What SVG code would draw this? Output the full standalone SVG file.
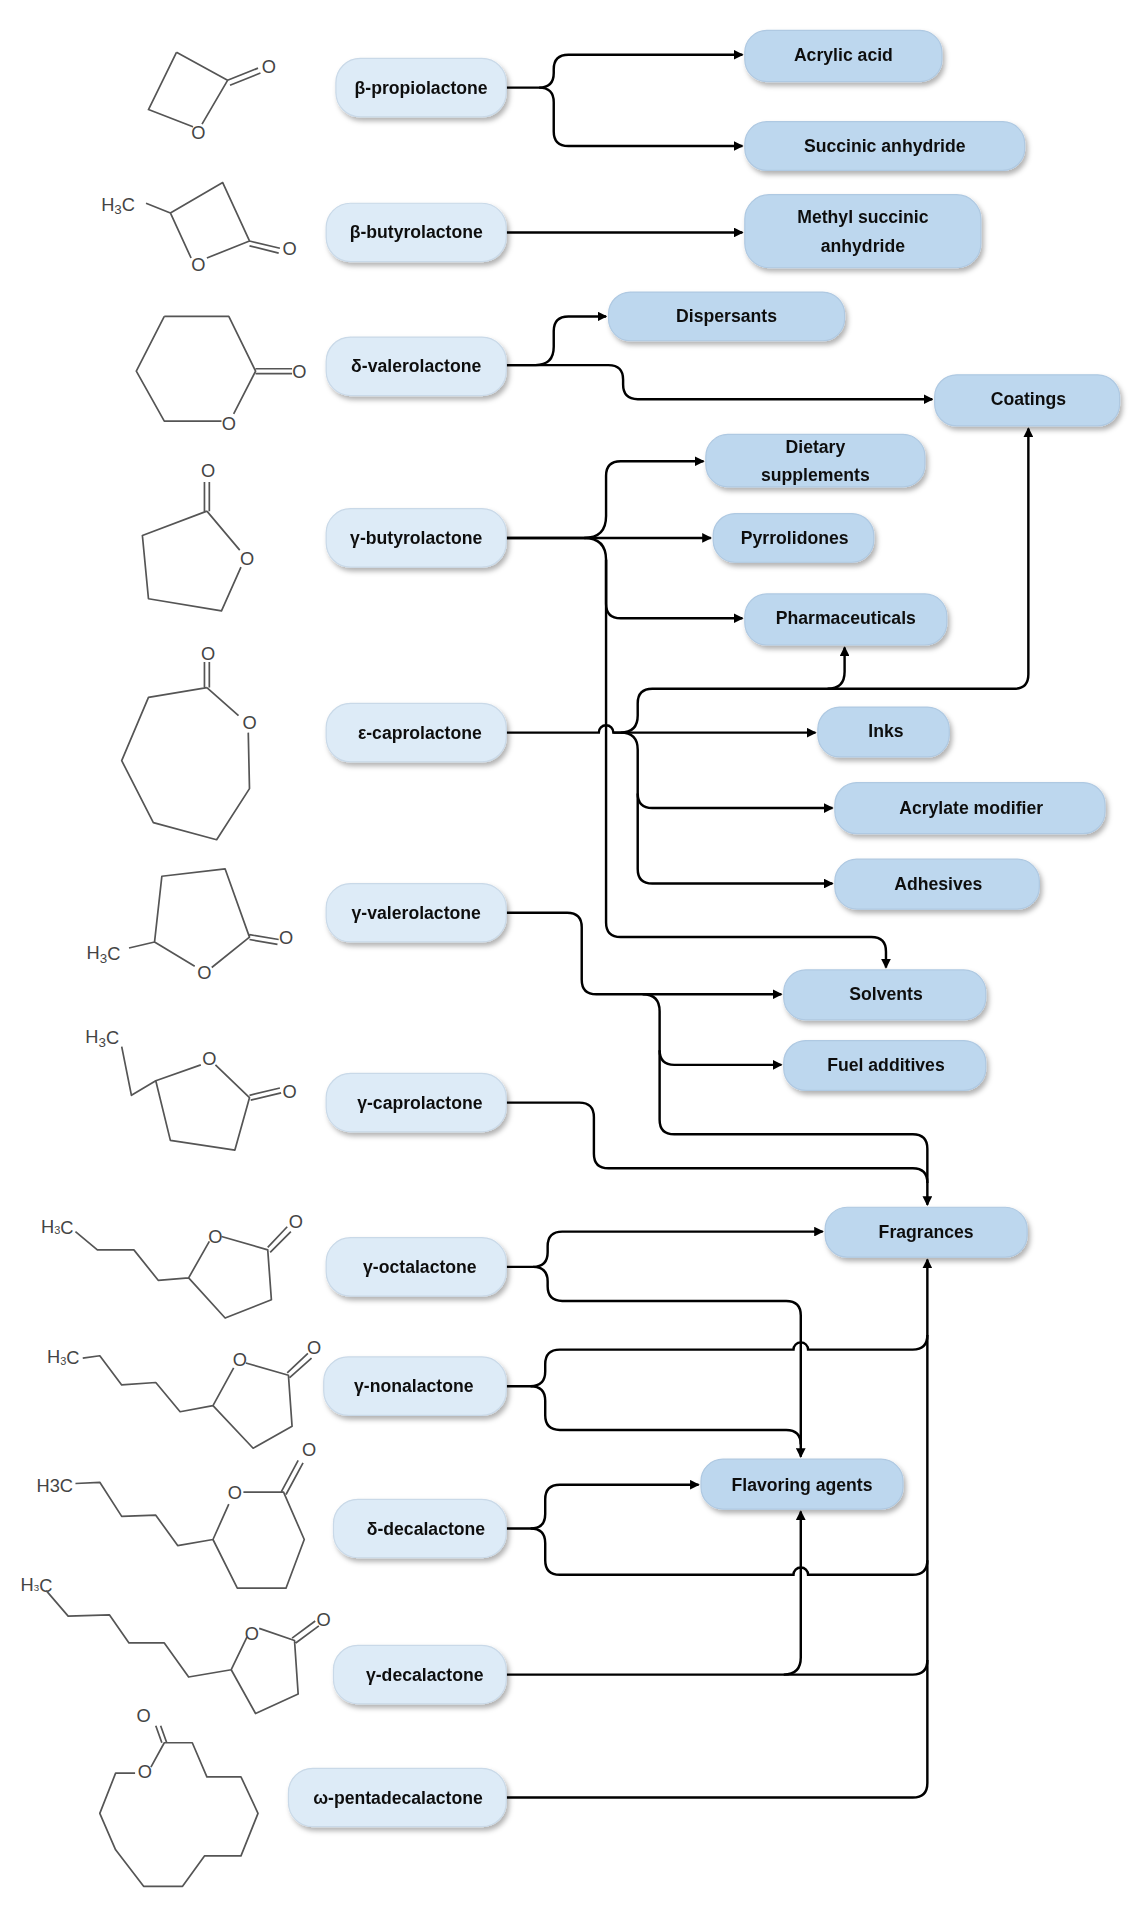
<svg xmlns="http://www.w3.org/2000/svg" width="1144" height="1914" viewBox="0 0 1144 1914">
<style>
.src{fill:#DDEBF7;stroke:#C9D9E8;stroke-width:1}
.dst{fill:#BDD7EE;stroke:#AFC9E2;stroke-width:1}
.lbl{font-family:"Liberation Sans",Arial,sans-serif;font-weight:bold;font-size:14.5px;fill:#111;text-anchor:middle;dominant-baseline:central}
.con{fill:none;stroke:#000;stroke-width:2}
.mol{fill:none;stroke:#555;stroke-width:1.4;stroke-linejoin:round}
.at{font-family:"Liberation Sans",Arial,sans-serif;font-size:15px;fill:#444;text-anchor:middle;dominant-baseline:central}
</style>
<defs>
<filter id="sh" x="-10%" y="-20%" width="130%" height="160%"><feDropShadow dx="2" dy="3" stdDeviation="2" flood-color="#000" flood-opacity="0.3"/></filter>
<marker id="ar" markerWidth="8" markerHeight="8" refX="7" refY="4" orient="auto" markerUnits="userSpaceOnUse"><path d="M0,0 L8,4 L0,8 Z" fill="#000"/></marker>
</defs>
<rect width="1144" height="1914" fill="#fff"/>
<g transform="scale(1.217)">
<g id="molecules">
<path class="mol" d="M145,43 L187,66 L166,102 M158,104 L122,90 Z M122,90 L145,43 M187,66 L212,56 M189,70 L214,60"/><text class="at" x="163" y="109">O</text><text class="at" x="221" y="55">O</text>
<text class="at" x="97" y="168">H<tspan font-size="11" dy="4">3</tspan><tspan dy="-4">C</tspan></text>
<path class="mol" d="M120,167 L140,175 L183,150 L205,198 L170,212 M157,212 L140,175 M205,198 L230,204 M205,202 L229,208"/><text class="at" x="163" y="217">O</text><text class="at" x="238" y="204">O</text>
<path class="mol" d="M135,260 L188,260 L210,305 L192,340 M182,346 L135,346 L112,305 L135,260 M210,303 L240,303 M210,307 L240,307"/><text class="at" x="188" y="348">O</text><text class="at" x="246" y="305">O</text>
<path class="mol" d="M170,420 L197,452 M198,466 L182,502 L122,492 L117,440 L170,420 M168,420 L168,396 M172,420 L172,396"/><text class="at" x="203" y="459">O</text><text class="at" x="171" y="387">O</text>
<path class="mol" d="M170,565 L196,588 M204,602 L205,648 L178,690 L126,676 L100,625 L122,573 L170,565 M168,565 L168,544 M172,565 L172,544"/><text class="at" x="205" y="594">O</text><text class="at" x="171" y="537">O</text>
<text class="at" x="85" y="783">H<tspan font-size="11" dy="4">3</tspan><tspan dy="-4">C</tspan></text>
<path class="mol" d="M106,779 L127,774 L160,794 M174,795 L205,770 L185,714 L133,720 L127,774 M205,768 L229,772 M205,772 L228,776"/><text class="at" x="168" y="799">O</text><text class="at" x="235" y="770">O</text>
<text class="at" x="84" y="852">H<tspan font-size="11" dy="4">3</tspan><tspan dy="-4">C</tspan></text>
<path class="mol" d="M100,860 L108,900 L128,888 L165,875 M177,875 L205,902 L193,945 L140,937 L128,888 M205,900 L230,894 M206,904 L231,898"/><text class="at" x="172" y="870">O</text><text class="at" x="238" y="897">O</text>
<text class="at" x="47" y="1008" font-size="12">H<tspan font-size="9" dy="3">3</tspan><tspan dy="-3">C</tspan></text>
<path class="mol" d="M62,1012 L80,1027 L110,1027 L130,1052 L155,1050 L172,1020 M182,1016 L220,1027 L223,1068 L185,1083 L155,1050 M220,1025 L236,1008 M222,1029 L239,1012"/><text class="at" x="177" y="1016" font-size="13">O</text><text class="at" x="243" y="1004" font-size="13">O</text>
<text class="at" x="52" y="1115" font-size="12">H<tspan font-size="9" dy="3">3</tspan><tspan dy="-3">C</tspan></text>
<path class="mol" d="M68,1116 L82,1114 L100,1138 L128,1136 L148,1160 L175,1155 L192,1124 M202,1120 L237,1130 L240,1172 L208,1190 L175,1155 M236,1128 L253,1112 M238,1132 L256,1116"/><text class="at" x="197" y="1117" font-size="13">O</text><text class="at" x="258" y="1107" font-size="13">O</text>
<text class="at" x="45" y="1221" font-size="12">H3C</text>
<path class="mol" d="M62,1219 L82,1218 L100,1246 L128,1245 L146,1270 L175,1265 L188,1236 M200,1226 L233,1226 L250,1265 L235,1305 L195,1305 L175,1265 M231,1226 L245,1200 M235,1228 L249,1202"/><text class="at" x="193" y="1226" font-size="13">O</text><text class="at" x="254" y="1191" font-size="13">O</text>
<text class="at" x="30" y="1302" font-size="10">H<tspan font-size="8" dy="2">3</tspan><tspan dy="-2">C</tspan></text>
<path class="mol" d="M38,1307 L56,1328 L90,1327 L106,1350 L135,1350 L155,1378 L190,1372 L203,1345 M213,1338 L242,1348 L245,1392 L210,1408 L190,1372 M240,1346 L259,1332 M243,1350 L262,1336"/><text class="at" x="207" y="1342" font-size="12">O</text><text class="at" x="266" y="1331" font-size="12">O</text>
<path class="mol" d="M124,1452 L135,1432 L158,1432 L170,1460 L198,1460 L212,1490 L198,1525 L168,1525 L150,1550 L118,1550 L95,1520 L82,1490 L95,1457 L111,1457 M133,1432 L128,1418 M137,1432 L132,1418"/><text class="at" x="119" y="1456" font-size="13">O</text><text class="at" x="118" y="1410" font-size="13">O</text>
</g>
<g id="connectors">
<path class="con" d="M416,72 H443 Q455,72 455,60 V57 Q455,45 467,45 H610" marker-end="url(#ar)"/>
<path class="con" d="M443,72 Q455,72 455,84 V108 Q455,120 467,120 H610" marker-end="url(#ar)"/>
<path class="con" d="M416,191 H610" marker-end="url(#ar)"/>
<path class="con" d="M416,300 H440 Q455,300 455,285 V272 Q455,260 467,260 H498" marker-end="url(#ar)"/>
<path class="con" d="M416,300 H500 Q512,300 512,312 V316 Q512,328 524,328 H766" marker-end="url(#ar)"/>
<path class="con" d="M416,442 H480 Q498,442 498,424 V391 Q498,379 510,379 H578" marker-end="url(#ar)"/>
<path class="con" d="M416,442 H584" marker-end="url(#ar)"/>
<path class="con" d="M480,442 Q498,442 498,460 V496 Q498,508 510,508 H610" marker-end="url(#ar)"/>
<path class="con" d="M498,460 V758 Q498,770 510,770 H716 Q728,770 728,782 V795" marker-end="url(#ar)"/>
<path class="con" d="M416,602 H492 A6,6 0 0 1 504,602 H510 Q524,602 524,588 V578 Q524,566 536,566 H833 Q845,566 845,554 V352" marker-end="url(#ar)"/>
<path class="con" d="M680,566 Q694,566 694,552 V532" marker-end="url(#ar)"/>
<path class="con" d="M504,602 H670" marker-end="url(#ar)"/>
<path class="con" d="M510,602 Q524,602 524,616 V652 Q524,664 536,664 H684" marker-end="url(#ar)"/>
<path class="con" d="M524,652 V714 Q524,726 536,726 H684" marker-end="url(#ar)"/>
<path class="con" d="M416,750 H466 Q478,750 478,762 V805 Q478,817 490,817 H642" marker-end="url(#ar)"/>
<path class="con" d="M528,817 Q542,817 542,831 V863 Q542,875 554,875 H642" marker-end="url(#ar)"/>
<path class="con" d="M542,863 V920 Q542,932 554,932 H750 Q762,932 762,944 V990" marker-end="url(#ar)"/>
<path class="con" d="M416,906 H476 Q488,906 488,918 V948 Q488,960 500,960 H750 Q762,960 762,972"/>
<path class="con" d="M416,1041 H438 Q450,1041 450,1029 V1024 Q450,1012 462,1012 H676" marker-end="url(#ar)"/>
<path class="con" d="M438,1041 Q450,1041 450,1053 V1057 Q450,1069 462,1069 H646 Q658,1069 658,1081 V1197" marker-end="url(#ar)"/>
<path class="con" d="M416,1139 H436 Q448,1139 448,1127 V1121 Q448,1109 460,1109 H652 A6,6 0 0 1 664,1109 H750 Q762,1109 762,1097"/>
<path class="con" d="M436,1139 Q448,1139 448,1151 V1163 Q448,1175 460,1175 H646 Q658,1175 658,1187"/>
<path class="con" d="M416,1256 H436 Q448,1256 448,1244 V1232 Q448,1220 460,1220 H574" marker-end="url(#ar)"/>
<path class="con" d="M436,1256 Q448,1256 448,1268 V1282 Q448,1294 460,1294 H652 A6,6 0 0 1 664,1294 H750 Q762,1294 762,1282"/>
<path class="con" d="M416,1376 H750 Q762,1376 762,1364"/>
<path class="con" d="M644,1376 Q658,1376 658,1362 V1242" marker-end="url(#ar)"/>
<path class="con" d="M416,1477 H750 Q762,1477 762,1465 V1035" marker-end="url(#ar)"/>
</g>
<g filter="url(#sh)">
<g id="n-bprop"><rect class="src" x="276" y="48" width="140" height="48" rx="20"/><text class="lbl" x="346" y="72">β-propiolactone</text></g>
<g id="n-bbuty"><rect class="src" x="268" y="167" width="148" height="48" rx="20"/><text class="lbl" x="342" y="191">β-butyrolactone</text></g>
<g id="n-dval"><rect class="src" x="268" y="277" width="148" height="48" rx="20"/><text class="lbl" x="342" y="301">δ-valerolactone</text></g>
<g id="n-gbuty"><rect class="src" x="268" y="418" width="148" height="48" rx="20"/><text class="lbl" x="342" y="442">γ-butyrolactone</text></g>
<g id="n-ecap"><rect class="src" x="268" y="578" width="148" height="48" rx="20"/><text class="lbl" x="345" y="602">ε-caprolactone</text></g>
<g id="n-gval"><rect class="src" x="268" y="726" width="148" height="48" rx="20"/><text class="lbl" x="342" y="750">γ-valerolactone</text></g>
<g id="n-gcap"><rect class="src" x="268" y="882" width="148" height="48" rx="20"/><text class="lbl" x="345" y="906">γ-caprolactone</text></g>
<g id="n-goct"><rect class="src" x="268" y="1017" width="148" height="48" rx="20"/><text class="lbl" x="345" y="1041">γ-octalactone</text></g>
<g id="n-gnon"><rect class="src" x="266" y="1115" width="150" height="48" rx="20"/><text class="lbl" x="340" y="1139">γ-nonalactone</text></g>
<g id="n-ddec"><rect class="src" x="274" y="1232" width="142" height="48" rx="20"/><text class="lbl" x="350" y="1256">δ-decalactone</text></g>
<g id="n-gdec"><rect class="src" x="274" y="1352" width="142" height="48" rx="20"/><text class="lbl" x="349" y="1376">γ-decalactone</text></g>
<g id="n-wpen"><rect class="src" x="237" y="1453" width="179" height="48" rx="20"/><text class="lbl" x="327" y="1477">ω-pentadecalactone</text></g>
<g id="n-acryl"><rect class="dst" x="612" y="25" width="162" height="42" rx="18"/><text class="lbl" x="693" y="45">Acrylic acid</text></g>
<g id="n-succ"><rect class="dst" x="612" y="100" width="230" height="40" rx="18"/><text class="lbl" x="727" y="120">Succinic anhydride</text></g>
<g id="n-msucc"><rect class="dst" x="612" y="160" width="194" height="60" rx="20"/><text class="lbl" x="709" y="178">Methyl succinic</text><text class="lbl" x="709" y="202">anhydride</text></g>
<g id="n-disp"><rect class="dst" x="500" y="240" width="194" height="40" rx="18"/><text class="lbl" x="597" y="260">Dispersants</text></g>
<g id="n-coat"><rect class="dst" x="768" y="308" width="152" height="42" rx="18"/><text class="lbl" x="845" y="328">Coatings</text></g>
<g id="n-diet"><rect class="dst" x="580" y="357" width="180" height="43" rx="18"/><text class="lbl" x="670" y="367">Dietary</text><text class="lbl" x="670" y="390">supplements</text></g>
<g id="n-pyrr"><rect class="dst" x="586" y="422" width="132" height="40" rx="18"/><text class="lbl" x="653" y="442">Pyrrolidones</text></g>
<g id="n-pharm"><rect class="dst" x="612" y="488" width="166" height="42" rx="18"/><text class="lbl" x="695" y="508">Pharmaceuticals</text></g>
<g id="n-inks"><rect class="dst" x="672" y="581" width="108" height="41" rx="18"/><text class="lbl" x="728" y="601">Inks</text></g>
<g id="n-acrm"><rect class="dst" x="686" y="643" width="222" height="42" rx="18"/><text class="lbl" x="798" y="664">Acrylate modifier</text></g>
<g id="n-adh"><rect class="dst" x="686" y="706" width="168" height="41" rx="18"/><text class="lbl" x="771" y="726">Adhesives</text></g>
<g id="n-solv"><rect class="dst" x="644" y="797" width="166" height="41" rx="18"/><text class="lbl" x="728" y="817">Solvents</text></g>
<g id="n-fuel"><rect class="dst" x="644" y="855" width="166" height="41" rx="18"/><text class="lbl" x="728" y="875">Fuel additives</text></g>
<g id="n-frag"><rect class="dst" x="678" y="992" width="166" height="41" rx="18"/><text class="lbl" x="761" y="1012">Fragrances</text></g>
<g id="n-flav"><rect class="dst" x="576" y="1199" width="166" height="41" rx="18"/><text class="lbl" x="659" y="1220">Flavoring agents</text></g>
</g>
</g>
</svg>
